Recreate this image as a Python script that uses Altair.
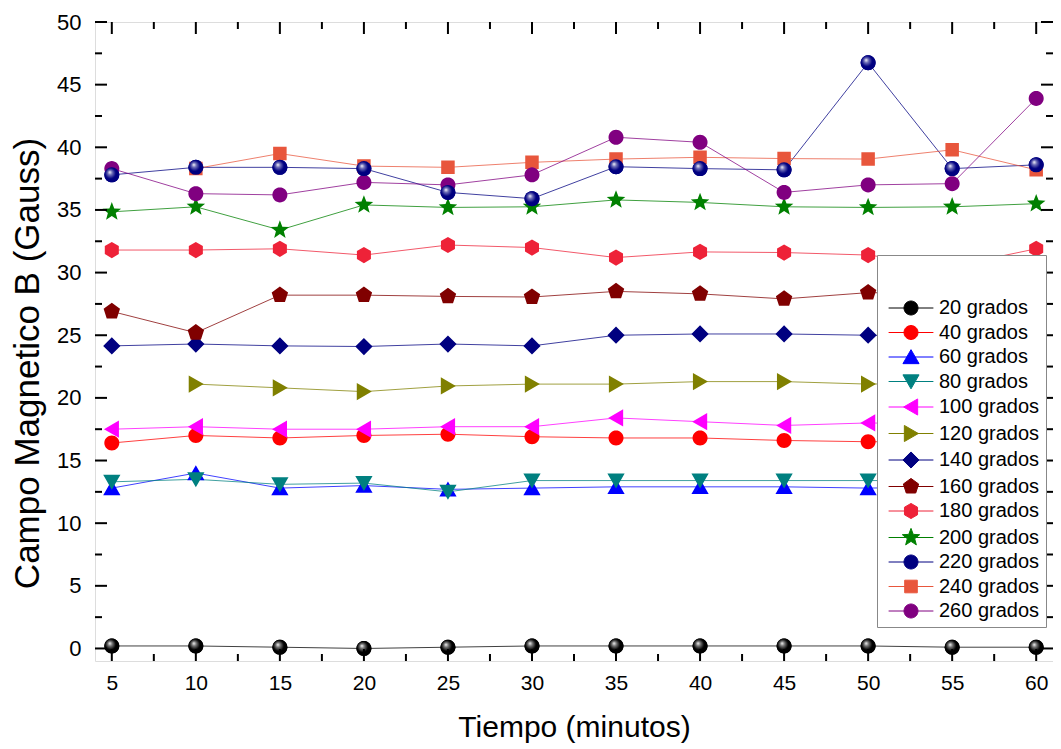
import math
import altair as alt
import pandas as pd

# ---------------- data ----------------
tiempo = [5, 10, 15, 20, 25, 30, 35, 40, 45, 50, 55, 60]
series = ["20 grados", "40 grados", "60 grados", "80 grados", "100 grados",
          "120 grados", "140 grados", "160 grados", "180 grados", "200 grados",
          "220 grados", "240 grados", "260 grados"]

g20 = [0.2, 0.2, 0.1, 0.0, 0.1, 0.2, 0.2, 0.2, 0.2, 0.2, 0.1, 0.1]
g40 = [16.4, 17.0, 16.8, 17.0, 17.1, 16.9, 16.8, 16.8, 16.6, 16.5, 16.5, 16.1]
g60 = [12.8, 14.0, 12.8, 13.0, 12.7, 12.8, 12.9, 12.9, 12.9, 12.8, 12.9, 12.9]
g80 = [13.3, 13.5, 13.1, 13.2, 12.5, 13.4, 13.4, 13.4, 13.4, 13.4, 13.4, 13.2]
g100 = [17.5, 17.7, 17.5, 17.5, 17.7, 17.7, 18.4, 18.1, 17.8, 18.0, 17.9, 17.7]
g120 = [None, 21.1, 20.8, 20.5, 20.95, 21.1, 21.1, 21.3, 21.3, 21.1, 21.2, 21.3]
g140 = [24.15, 24.3, 24.15, 24.1, 24.3, 24.15, 25.0, 25.1, 25.1, 25.0, 24.9, 24.6]
g160 = [26.9, 25.2, 28.2, 28.2, 28.1, 28.05, 28.5, 28.3, 27.9, 28.4, 28.3, 28.0]
g180 = [31.8, 31.8, 31.9, 31.4, 32.2, 32.0, 31.2, 31.65, 31.6, 31.4, 30.5, 31.9]
g200 = [34.85, 35.25, 33.4, 35.4, 35.2, 35.25, 35.8, 35.6, 35.25, 35.2, 35.25, 35.5]
g220 = [37.8, 38.4, 38.4, 38.3, 36.4, 35.9, 38.45, 38.3, 38.2, 46.75, 38.3, 38.6]
g240 = [None, 38.3, 39.5, 38.5, 38.4, 38.8, 39.06, 39.2, 39.1, 39.06, 39.8, 38.2]
g260 = [38.3, 36.3, 36.2, 37.2, 37.0, 37.8, 40.8, 40.4, 36.4, 37.0, 37.1, 43.9]

valores = [g20, g40, g60, g80, g100, g120, g140, g160, g180, g200, g220, g240, g260]

colores = ["#000000", "#FF0000", "#0000FF", "#008080", "#FF00FF", "#808000",
           "#000080", "#800000", "#EE2238", "#008000", "#000080", "#E8563C", "#800080"]

x_major = [5, 10, 15, 20, 25, 30, 35, 40, 45, 50, 55, 60]
x_minor = [7.5, 12.5, 17.5, 22.5, 27.5, 32.5, 37.5, 42.5, 47.5, 52.5, 57.5]
y_major = [0, 5, 10, 15, 20, 25, 30, 35, 40, 45, 50]
y_minor = [2.5, 7.5, 12.5, 17.5, 22.5, 27.5, 32.5, 37.5, 42.5, 47.5]

# ---------------- marker shapes (custom symbol paths) ----------------
LINE = "M-3.2,0H3.2"


def poly(pts):
    return "M" + "L".join(f"{x:.3f},{y:.3f}" for x, y in pts) + "Z"


def regular(n, r, rot=-90.0):
    return [(r * math.cos(math.radians(rot + 360.0 * k / n)),
             r * math.sin(math.radians(rot + 360.0 * k / n))) for k in range(n)]


def star(ro, ri):
    pts = []
    for k in range(10):
        r = ro if k % 2 == 0 else ri
        a = math.radians(-90 + 36 * k)
        pts.append((r * math.cos(a), r * math.sin(a)))
    return pts


circ = poly(regular(32, 1.0))
shapes = [
    circ,                                                   # 20 sphere
    circ,                                                   # 40 circle
    poly([(0, -1.05), (1.15, 0.95), (-1.15, 0.95)]),        # 60 tri up
    poly([(0, 1.05), (1.15, -0.95), (-1.15, -0.95)]),       # 80 tri down
    poly([(-1.05, 0), (0.95, -1.15), (0.95, 1.15)]),        # 100 tri left
    poly([(1.05, 0), (-0.95, -1.15), (-0.95, 1.15)]),       # 120 tri right
    poly([(0, -1.15), (1.15, 0), (0, 1.15), (-1.15, 0)]),   # 140 diamond
    poly(regular(5, 1.15)),                                 # 160 pentagon
    poly(regular(6, 1.08)),                                 # 180 hexagon
    poly(star(1.3, 0.55)),                                  # 200 star
    circ,                                                   # 220 sphere
    poly([(-0.9, -0.9), (0.9, -0.9), (0.9, 0.9), (-0.9, 0.9)]),  # 240 square
    circ,                                                   # 260 circle
]
shapes = [LINE + s for s in shapes]

rows = []
for s, vals, col in zip(series, valores, colores):
    for t, v in zip(tiempo, vals):
        if v is not None:
            rows.append({"tiempo": t, "B": v, "serie": s, "col": col})
df = pd.DataFrame(rows)

W, H = 958, 639
xs = alt.Scale(domain=[4, 61], nice=False, zero=False)
ys = alt.Scale(domain=[-1, 50], nice=False, zero=False)
FONT = "Liberation Sans"

x_enc = alt.X("tiempo:Q", scale=xs,
              axis=alt.Axis(values=x_major, title="Tiempo (minutos)", grid=False,
                            ticks=False, domain=False, labelFontSize=21,
                            labelPadding=11, titleFontSize=30, titleFontWeight="normal",
                            titlePadding=19, labelFont=FONT, titleFont=FONT,
                            labelColor="black", titleColor="black"))
y_enc = alt.Y("B:Q", scale=ys,
              axis=alt.Axis(values=y_major, title="Campo Magnetico B (Gauss)", grid=False,
                            ticks=False, domain=False, labelFontSize=22,
                            labelPadding=14, titleFontSize=35, titleFontWeight="normal",
                            titlePadding=11, titleY=341, labelFont=FONT, titleFont=FONT,
                            labelColor="black", titleColor="black"))

base = alt.Chart(df)

lines = base.mark_line(strokeWidth=1, strokeOpacity=0.75).encode(
    x=x_enc, y=y_enc,
    color=alt.Color("col:N", scale=None),
    detail="serie:N",
    order="tiempo:Q",
)

legend = alt.Legend(
    title=" ", titleFontSize=20, titlePadding=17, orient="none",
    legendX=782, legendY=233, fillColor="white", strokeColor="#888888",
    padding=6, labelFontSize=20, labelFont=FONT, labelColor="black",
    symbolSize=196, symbolStrokeWidth=1, rowPadding=4.5, labelOffset=18,
    symbolOffset=18, labelLimit=0,
)

points = base.mark_point(filled=True, size=225, opacity=1).encode(
    x=alt.X("tiempo:Q", scale=xs),
    y=alt.Y("B:Q", scale=ys),
    fill=alt.Fill("serie:N", scale=alt.Scale(domain=series, range=colores),
                  sort=series, legend=legend),
    stroke=alt.Stroke("serie:N", scale=alt.Scale(domain=series, range=colores),
                      sort=series, legend=legend),
    shape=alt.Shape("serie:N", scale=alt.Scale(domain=series, range=shapes),
                    sort=series, legend=legend),
    strokeWidth=alt.value(0),
)


def sphere(name, dark, mid):
    grad = alt.RadialGradient(
        gradient="radial", x1=0.36, y1=0.32, r1=0.0, x2=0.45, y2=0.45, r2=0.6,
        stops=[alt.GradientStop(color="#ffffff", offset=0.0),
               alt.GradientStop(color=mid, offset=0.25),
               alt.GradientStop(color=dark, offset=0.6)])
    return base.transform_filter(alt.datum.serie == name).mark_point(
        shape="circle", filled=True, size=225, fill=grad, strokeWidth=0, opacity=1
    ).encode(x=alt.X("tiempo:Q", scale=xs), y=alt.Y("B:Q", scale=ys))


sph20 = sphere("20 grados", "#000000", "#777777")
sph220 = sphere("220 grados", "#000080", "#6f6fb8")

tx_major = pd.DataFrame({"v": x_major})
tx_minor = pd.DataFrame({"v": x_minor})
ty_major = pd.DataFrame({"v": y_major})
ty_minor = pd.DataFrame({"v": y_minor})


def xticks(data, length):
    b = alt.Chart(data).mark_rule(color="black", strokeWidth=2)
    bottom = b.encode(x=alt.X("v:Q", scale=xs), y=alt.value(H), y2=alt.value(H - length))
    top = b.encode(x=alt.X("v:Q", scale=xs), y=alt.value(0), y2=alt.value(length))
    return [bottom, top]


def yticks(data, length):
    b = alt.Chart(data).mark_rule(color="black", strokeWidth=2)
    left = b.encode(y=alt.Y("v:Q", scale=ys), x=alt.value(0), x2=alt.value(length))
    right = b.encode(y=alt.Y("v:Q", scale=ys), x=alt.value(W), x2=alt.value(W - length))
    return [left, right]


tick_layers = xticks(tx_major, 12) + xticks(tx_minor, 7) + yticks(ty_major, 12) + yticks(ty_minor, 7)

chart = alt.layer(lines, points, sph20, sph220, *tick_layers).properties(
    width=W, height=H,
    autosize=alt.AutoSizeParams(type="none"),
    padding={"left": 87, "top": 14, "right": 0, "bottom": 86},
).configure_view(stroke="black", strokeWidth=2).configure(background="white")

chart.save("out.html", embed_options={"renderer": "svg", "actions": False})
